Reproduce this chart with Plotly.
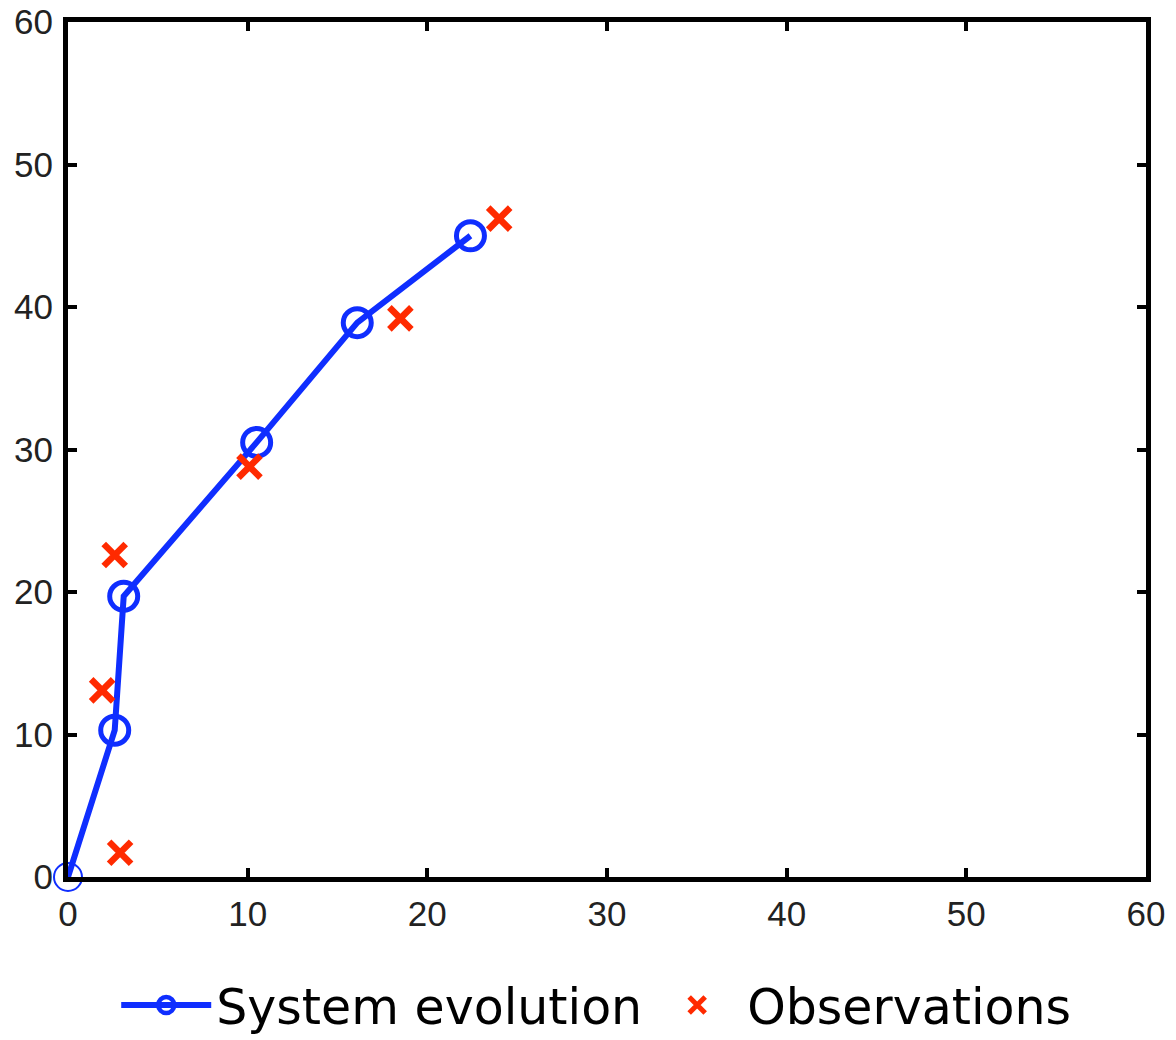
import plotly.graph_objects as go

# System evolution (blue line with open circles)
sys_x = [0.0, 2.6, 3.1, 10.5, 16.1, 22.4]
sys_y = [0.0, 10.3, 19.7, 30.5, 38.9, 45.0]

# Observations (red crosses)
obs_x = [2.9, 1.9, 2.6, 10.1, 18.5, 24.0]
obs_y = [1.7, 13.1, 22.6, 28.8, 39.2, 46.2]

tick_vals = [0, 10, 20, 30, 40, 50, 60]

BLUE = "#0f2eff"
RED = "#ff2a00"

fig = go.Figure()
fig.add_trace(go.Scatter(
    x=sys_x, y=sys_y, mode="lines+markers", name="System evolution",
    line=dict(color=BLUE, width=6),
    marker=dict(symbol="circle-open", size=28, color=BLUE,
                line=dict(color=BLUE, width=[2] + [5] * (len(sys_x) - 1))),
    cliponaxis=False,
))
fig.add_trace(go.Scatter(
    x=obs_x, y=obs_y, mode="markers", name="Observations",
    marker=dict(symbol="x-thin-open", size=22, color=RED,
                line=dict(color=RED, width=6.5)),
    cliponaxis=False,
))

axis_common = dict(
    range=[0, 60], tickvals=tick_vals, ticktext=[str(v) for v in tick_vals],
    showline=True, linecolor="black", linewidth=5, mirror="allticks",
    ticks="inside", ticklen=9, tickwidth=4, tickcolor="black",
    showgrid=False, zeroline=False, automargin=False,
    tickfont=dict(family="Liberation Sans, Arial, sans-serif", size=35, color="#222222"),
)

fig.update_layout(
    width=1176, height=1040,
    margin=dict(l=68, r=30, t=22, b=163, autoexpand=False),
    plot_bgcolor="white", paper_bgcolor="white",
    xaxis=dict(**axis_common, ticklabelstandoff=2),
    yaxis=dict(**axis_common, ticklabelstandoff=3),
    showlegend=True,
    legend=dict(orientation="h", x=0.49, xanchor="center", y=-0.150, yanchor="middle",
                font=dict(family="DejaVu Sans, Verdana, sans-serif", size=49, color="black"),
                itemwidth=90, bgcolor="rgba(0,0,0,0)"),
)

fig.write_html("out.html", config={"displayModeBar": False},
               post_script="document.body.style.margin='0';")
